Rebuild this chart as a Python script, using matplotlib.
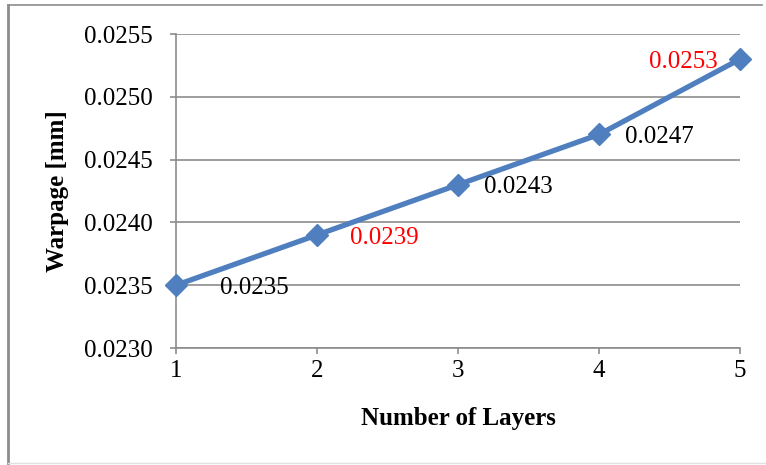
import matplotlib.pyplot as plt
from matplotlib.lines import Line2D

layers = [1, 2, 3, 4, 5]
warpage = [0.0235, 0.0239, 0.0243, 0.0247, 0.0253]
label_colors = ['black', 'red', 'black', 'black', 'red']
y_ticks = [0.0230, 0.0235, 0.0240, 0.0245, 0.0250, 0.0255]

plt.rcParams['font.family'] = ['Liberation Serif', 'DejaVu Serif']

fig = plt.figure(figsize=(7.66, 4.65), dpi=100)
ax = fig.add_axes([176 / 766, 1 - 348 / 465, (740 - 176) / 766, (348 - 34) / 465])

# chart frame lines
fig.add_artist(Line2D([8 / 766, 762 / 766], [1 - 5 / 465, 1 - 5 / 465], color='#8c8c8c', lw=1.2))
fig.add_artist(Line2D([8 / 766, 8 / 766], [1 - 5 / 465, 1 - 463 / 465], color='#8c8c8c', lw=2))
fig.add_artist(Line2D([8 / 766, 766 / 766], [1 - 463 / 465, 1 - 463 / 465], color='#e0e0e0', lw=1))

ax.plot(layers, warpage, color='#4F7FBE', lw=3.8, marker='D', markersize=11,
        markerfacecolor='#4F7FBE', markeredgecolor='#4F7FBE', zorder=3, clip_on=False)

# (dx, dy, ha) in points
offsets = [(32, -2, 'left'), (24, -2, 'left'), (19, -2, 'left'), (19, -2, 'left'), (-16, -2, 'right')]
for x, y, c, (dx, dy, ha) in zip(layers, warpage, label_colors, offsets):
    ax.annotate(f'{y:.4f}', (x, y), xytext=(dx, dy), textcoords='offset points',
                ha=ha, va='center', fontsize=18, color=c)

ax.set_xlim(1, 5)
ax.set_ylim(0.0230, 0.0255)
ax.set_xticks(layers)
ax.set_yticks(y_ticks)
ax.set_yticklabels([f'{t:.4f}' for t in y_ticks])
ax.tick_params(labelsize=18, colors='black', length=4.5, width=1.2)
ax.tick_params(axis='y', pad=12)
ax.tick_params(axis='x', pad=4)
ax.tick_params(axis='both', color='#8c8c8c')
ax.grid(axis='y', color='#8c8c8c', lw=1.2)
ax.set_axisbelow(True)
for s in ['top', 'right']:
    ax.spines[s].set_visible(False)
for s in ['left', 'bottom']:
    ax.spines[s].set_color('#8c8c8c')
    ax.spines[s].set_linewidth(1.2)

ax.set_xlabel('Number of Layers', fontsize=18, fontweight='bold', labelpad=18)
ax.set_ylabel('Warpage [mm]', fontsize=18, fontweight='bold', labelpad=11)

fig.savefig('out.png', dpi=100)
